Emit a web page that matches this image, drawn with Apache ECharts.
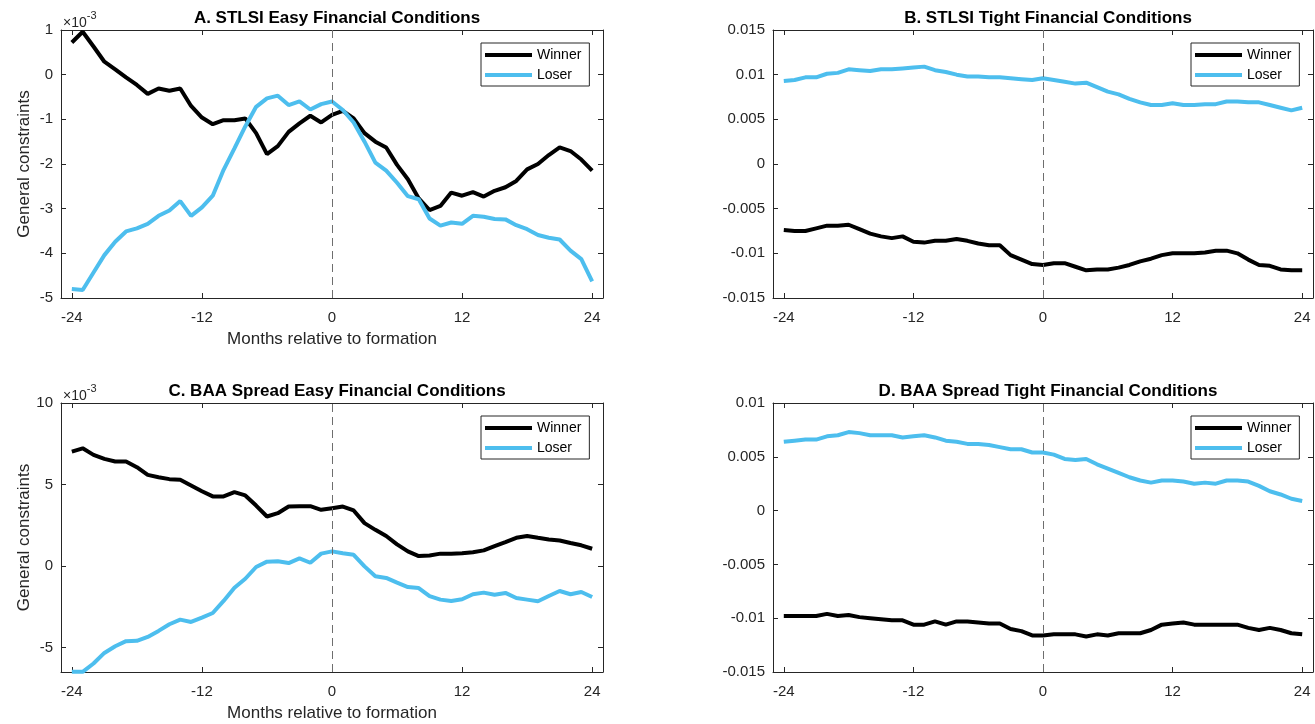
<!DOCTYPE html>
<html>
<head>
<meta charset="utf-8">
<script src="https://cdn.jsdelivr.net/npm/echarts@6/dist/echarts.min.js"></script>
<style>
  html, body { margin: 0; padding: 0; background: #fff; }
  #chart { width: 1315px; height: 724px; }
</style>
</head>
<body>
<div id="chart"></div>
<script>
// months relative to formation
var months = [-24,-23,-22,-21,-20,-19,-18,-17,-16,-15,-14,-13,-12,-11,-10,-9,-8,-7,-6,-5,-4,-3,-2,-1,
  0,1,2,3,4,5,6,7,8,9,10,11,12,13,14,15,16,17,18,19,20,21,22,23,24];
var monthTicks = [-24, -12, 0, 12, 24];

// A. STLSI easy (units of 1e-3)
var winnerA = [0.72,0.96,0.63,0.29,0.12,-0.06,-0.23,-0.43,-0.31,-0.36,-0.31,-0.70,-0.96,-1.11,-1.02,-1.02,-0.98,-1.31,-1.78,-1.60,-1.28,-1.09,-0.92,-1.07,
  -0.90,-0.81,-0.98,-1.31,-1.50,-1.63,-2.02,-2.34,-2.77,-3.03,-2.94,-2.64,-2.71,-2.63,-2.73,-2.60,-2.52,-2.38,-2.12,-2.00,-1.80,-1.63,-1.71,-1.90,-2.15];
var loserA = [-4.80,-4.82,-4.43,-4.04,-3.74,-3.51,-3.44,-3.34,-3.16,-3.04,-2.83,-3.16,-2.97,-2.71,-2.13,-1.65,-1.16,-0.72,-0.53,-0.47,-0.68,-0.60,-0.78,-0.66,
  -0.60,-0.79,-1.07,-1.50,-1.97,-2.15,-2.42,-2.72,-2.79,-3.22,-3.38,-3.31,-3.34,-3.16,-3.18,-3.23,-3.24,-3.37,-3.46,-3.59,-3.65,-3.69,-3.94,-4.13,-4.63];
var ticksA = [-5, -4, -3, -2, -1, 0, 1];

// B. STLSI tight
var winnerB = [-0.0074,-0.0075,-0.0075,-0.0072,-0.0069,-0.0069,-0.0068,-0.0073,-0.0078,-0.0081,-0.0083,-0.0081,-0.0087,-0.0088,-0.0086,-0.0086,-0.0084,-0.0086,-0.0089,-0.0091,-0.0091,-0.0102,-0.0107,-0.0112,
  -0.0113,-0.0111,-0.0111,-0.0115,-0.0119,-0.0118,-0.0118,-0.0116,-0.0113,-0.0109,-0.0106,-0.0102,-0.0100,-0.0100,-0.0100,-0.0099,-0.0097,-0.0097,-0.0100,-0.0107,-0.0113,-0.0114,-0.0118,-0.0119,-0.0119];
var loserB = [0.0093,0.0094,0.0097,0.0097,0.0101,0.0102,0.0106,0.0105,0.0104,0.0106,0.0106,0.0107,0.0108,0.0109,0.0105,0.0103,0.0100,0.0098,0.0098,0.0097,0.0097,0.0096,0.0095,0.0094,
  0.0096,0.0094,0.0092,0.0090,0.0091,0.0086,0.0081,0.0078,0.0073,0.0069,0.0066,0.0066,0.0068,0.0066,0.0066,0.0067,0.0067,0.0070,0.0070,0.0069,0.0069,0.0066,0.0063,0.0060,0.0063];
var ticksB = [-0.015, -0.01, -0.005, 0, 0.005, 0.01, 0.015];

// C. BAA spread easy (units of 1e-3)
var winnerC = [7.02,7.22,6.82,6.57,6.41,6.41,6.06,5.59,5.45,5.33,5.29,4.94,4.59,4.27,4.27,4.53,4.33,3.71,3.04,3.24,3.65,3.67,3.67,3.45,
  3.55,3.65,3.41,2.63,2.22,1.84,1.33,0.90,0.61,0.65,0.76,0.76,0.78,0.84,0.96,1.22,1.47,1.73,1.84,1.73,1.63,1.57,1.41,1.27,1.06];
var loserC = [-6.49,-6.49,-5.98,-5.33,-4.92,-4.61,-4.59,-4.35,-3.98,-3.57,-3.29,-3.43,-3.16,-2.88,-2.14,-1.33,-0.78,-0.06,0.27,0.29,0.18,0.47,0.20,0.76,
  0.90,0.78,0.69,-0.02,-0.63,-0.73,-1.02,-1.29,-1.35,-1.84,-2.06,-2.14,-2.04,-1.73,-1.63,-1.76,-1.65,-1.96,-2.06,-2.16,-1.84,-1.53,-1.73,-1.59,-1.90];
var ticksC = [-5, 0, 5, 10];

// D. BAA spread tight
var winnerD = [-0.0098,-0.0098,-0.0098,-0.0098,-0.0096,-0.0098,-0.0097,-0.0099,-0.0100,-0.0101,-0.0102,-0.0102,-0.0106,-0.0106,-0.0103,-0.0106,-0.0103,-0.0103,-0.0104,-0.0105,-0.0105,-0.0110,-0.0112,-0.0116,
  -0.0116,-0.0115,-0.0115,-0.0115,-0.0117,-0.0115,-0.0116,-0.0114,-0.0114,-0.0114,-0.0111,-0.0106,-0.0105,-0.0104,-0.0106,-0.0106,-0.0106,-0.0106,-0.0106,-0.0109,-0.0111,-0.0109,-0.0111,-0.0114,-0.0115];
var loserD = [0.0064,0.0065,0.0066,0.0066,0.0069,0.0070,0.0073,0.0072,0.0070,0.0070,0.0070,0.0068,0.0069,0.0070,0.0068,0.0065,0.0064,0.0062,0.0062,0.0061,0.0059,0.0057,0.0057,0.0054,
  0.0054,0.0052,0.0048,0.0047,0.0048,0.0043,0.0039,0.0035,0.0031,0.0028,0.0026,0.0028,0.0028,0.0027,0.0025,0.0026,0.0025,0.0028,0.0028,0.0027,0.0023,0.0018,0.0015,0.0011,0.0009];
var ticksD = [-0.015, -0.01, -0.005, 0, 0.005, 0.01];

var font = "'Liberation Sans', Arial, Helvetica, sans-serif";
var axisColor = '#262626';
var blue = '#4DBEEE';

var panels = [
  { title: 'A. STLSI Easy Financial Conditions', left: 61, top: 30, width: 542, height: 268,
    ymin: -5, ymax: 1, yticks: ticksA, win: winnerA, lose: loserA, xname: true, yname: true, exp: true },
  { title: 'B. STLSI Tight Financial Conditions', left: 773, top: 30, width: 540, height: 268,
    ymin: -0.015, ymax: 0.015, yticks: ticksB, win: winnerB, lose: loserB },
  { title: 'C. BAA Spread Easy Financial Conditions', left: 61, top: 403, width: 542, height: 269,
    ymin: -6.5, ymax: 10, yticks: ticksC, win: winnerC, lose: loserC, xname: true, yname: true, exp: true },
  { title: 'D. BAA Spread Tight Financial Conditions', left: 773, top: 403, width: 540, height: 269,
    ymin: -0.015, ymax: 0.01, yticks: ticksD, win: winnerD, lose: loserD }
];

function pairs(arr) {
  return months.map(function (m, i) { return [m, arr[i]]; });
}

var grid = [], xAxis = [], yAxis = [], series = [], title = [], legend = [], graphic = [];

panels.forEach(function (p, i) {
  grid.push({ left: p.left, top: p.top, width: p.width, height: p.height });
  title.push({
    text: p.title, left: p.left + p.width / 2, top: p.top - 25, textAlign: 'center',
    textStyle: { fontFamily: font, fontSize: 17, fontWeight: 'bold', color: '#000' }
  });
  var line = { show: true, onZero: false, lineStyle: { color: axisColor, width: 1 } };
  var tick = function (vals) {
    return { show: true, inside: true, length: 5, customValues: vals, lineStyle: { color: axisColor, width: 1 } };
  };
  xAxis.push({
    type: 'value', gridIndex: i, position: 'bottom', min: -25, max: 25,
    axisLine: line, axisTick: tick(monthTicks), splitLine: { show: false },
    axisLabel: { customValues: monthTicks, fontFamily: font, fontSize: 15, color: axisColor, margin: 12 },
    name: p.xname ? 'Months relative to formation' : '', nameLocation: 'middle', nameGap: 33,
    nameTextStyle: { fontFamily: font, fontSize: 17, color: axisColor }
  });
  xAxis.push({
    type: 'value', gridIndex: i, position: 'top', min: -25, max: 25,
    axisLine: line, axisTick: tick(monthTicks), splitLine: { show: false }, axisLabel: { show: false }
  });
  yAxis.push({
    type: 'value', gridIndex: i, position: 'left', min: p.ymin, max: p.ymax,
    axisLine: line, axisTick: tick(p.yticks), splitLine: { show: false },
    axisLabel: { customValues: p.yticks, fontFamily: font, fontSize: 15, color: axisColor, margin: 8 },
    name: p.yname ? 'General constraints' : '', nameLocation: 'middle', nameGap: 28, nameRotate: 90,
    nameTextStyle: { fontFamily: font, fontSize: 17, color: axisColor }
  });
  yAxis.push({
    type: 'value', gridIndex: i, position: 'right', min: p.ymin, max: p.ymax,
    axisLine: line, axisTick: tick(p.yticks), splitLine: { show: false }, axisLabel: { show: false }
  });
  series.push({
    name: 'Winner', type: 'line', xAxisIndex: 2 * i, yAxisIndex: 2 * i, data: pairs(p.win),
    symbol: 'none', lineStyle: { color: '#000', width: 4 }, itemStyle: { color: '#000' },
    markLine: {
      silent: true, symbol: 'none', label: { show: false },
      lineStyle: { color: '#6e6e6e', width: 1, type: [8, 5] },
      data: [{ xAxis: 0 }]
    },
    animation: false
  });
  series.push({
    name: 'Loser', type: 'line', xAxisIndex: 2 * i, yAxisIndex: 2 * i, data: pairs(p.lose),
    symbol: 'none', lineStyle: { color: blue, width: 4 }, itemStyle: { color: blue },
    animation: false
  });
  legend.push({
    data: ['Winner', 'Loser'], orient: 'vertical', icon: 'rect',
    left: p.left + p.width - 122, top: p.top + 13,
    itemWidth: 47, itemHeight: 4, itemGap: 4,
    padding: [4, 8, 3, 4], borderColor: axisColor, borderWidth: 1, backgroundColor: '#fff',
    selectedMode: false,
    textStyle: { fontFamily: font, fontSize: 14, color: '#000', lineHeight: 16 }
  });
  if (p.exp) {
    graphic.push({
      type: 'text', left: p.left + 2, top: p.top - 20,
      style: {
        text: '{a|×10}{b|-3}', fontFamily: font,
        rich: {
          a: { fontFamily: font, fontSize: 14, fill: axisColor, padding: [6, 0, 0, 0] },
          b: { fontFamily: font, fontSize: 11, fill: axisColor, verticalAlign: 'top' }
        }
      }
    });
  }
});

var chart = echarts.init(document.getElementById('chart'));
chart.setOption({
  animation: false,
  backgroundColor: '#fff',
  title: title,
  grid: grid,
  xAxis: xAxis,
  yAxis: yAxis,
  legend: legend,
  graphic: graphic,
  series: series
});
</script>
</body>
</html>
